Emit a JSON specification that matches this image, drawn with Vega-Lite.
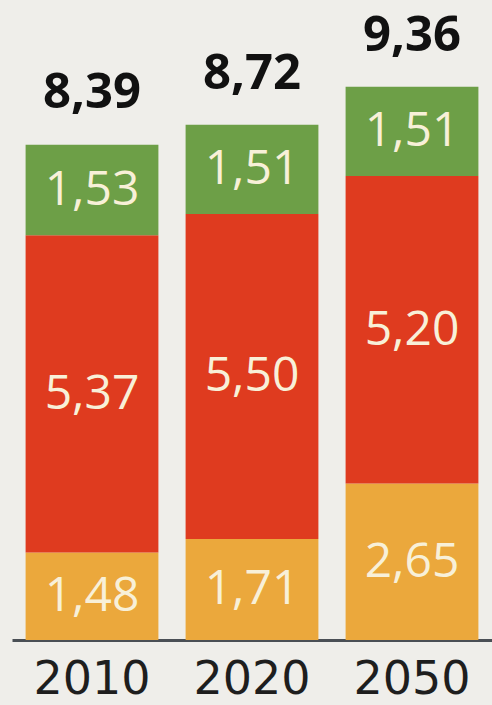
{
  "$schema": "https://vega.github.io/schema/vega-lite/v6.json",
  "width": 480,
  "height": 640,
  "autosize": {"type": "none"},
  "padding": {"left": 12, "top": 0, "right": 0, "bottom": 65},
  "background": "#efeeea",
  "config": {
    "view": {"stroke": null},
    "locale": {"number": {"decimal": ",", "thousands": ".", "grouping": [3], "currency": ["", " €"]}}
  },
  "datasets": {
    "segments": [
      {"year": "2010", "category": "C", "rank": 1, "value": 1.48},
      {"year": "2010", "category": "B", "rank": 2, "value": 5.37},
      {"year": "2010", "category": "A", "rank": 3, "value": 1.53},
      {"year": "2020", "category": "C", "rank": 1, "value": 1.71},
      {"year": "2020", "category": "B", "rank": 2, "value": 5.50},
      {"year": "2020", "category": "A", "rank": 3, "value": 1.51},
      {"year": "2050", "category": "C", "rank": 1, "value": 2.65},
      {"year": "2050", "category": "B", "rank": 2, "value": 5.20},
      {"year": "2050", "category": "A", "rank": 3, "value": 1.51}
    ],
    "totals": [
      {"year": "2010", "total": 8.39},
      {"year": "2020", "total": 8.72},
      {"year": "2050", "total": 9.36}
    ]
  },
  "encoding": {
    "x": {
      "field": "year",
      "type": "nominal",
      "scale": {"paddingInner": 0.17, "paddingOuter": 0.085},
      "axis": {
        "title": null,
        "labelAngle": 0,
        "labelFont": "DejaVu Sans",
        "labelFontSize": 46,
        "labelColor": "#1e1e1e",
        "labelPadding": 17,
        "ticks": false,
        "domainColor": "#4a4f55",
        "domainWidth": 3,
        "grid": false
      }
    }
  },
  "layer": [
    {
      "data": {"name": "segments"},
      "mark": {"type": "bar"},
      "encoding": {
        "y": {"field": "value", "type": "quantitative", "stack": "zero", "scale": {"domain": [0, 10.83]}, "axis": null},
        "color": {
          "field": "category",
          "type": "nominal",
          "scale": {"domain": ["A", "B", "C"], "range": ["#6d9f47", "#df3b1f", "#eba83c"]},
          "legend": null
        },
        "order": {"field": "rank"}
      }
    },
    {
      "data": {"name": "segments"},
      "mark": {"type": "text", "font": "Open Sans", "fontSize": 48, "color": "#f8f0d8", "baseline": "middle", "dy": 1},
      "encoding": {
        "y": {"field": "value", "type": "quantitative", "stack": "zero", "bandPosition": 0.5, "scale": {"domain": [0, 10.83]}, "axis": null},
        "text": {"field": "value", "type": "quantitative", "format": ".2f"},
        "detail": {"field": "category"},
        "order": {"field": "rank"}
      }
    },
    {
      "data": {"name": "totals"},
      "mark": {"type": "text", "font": "Open Sans", "fontWeight": "bold", "fontSize": 49, "color": "#111111", "baseline": "alphabetic", "dy": -36},
      "encoding": {
        "y": {"field": "total", "type": "quantitative", "scale": {"domain": [0, 10.83]}, "axis": null},
        "text": {"field": "total", "type": "quantitative", "format": ".2f"}
      }
    }
  ]
}
